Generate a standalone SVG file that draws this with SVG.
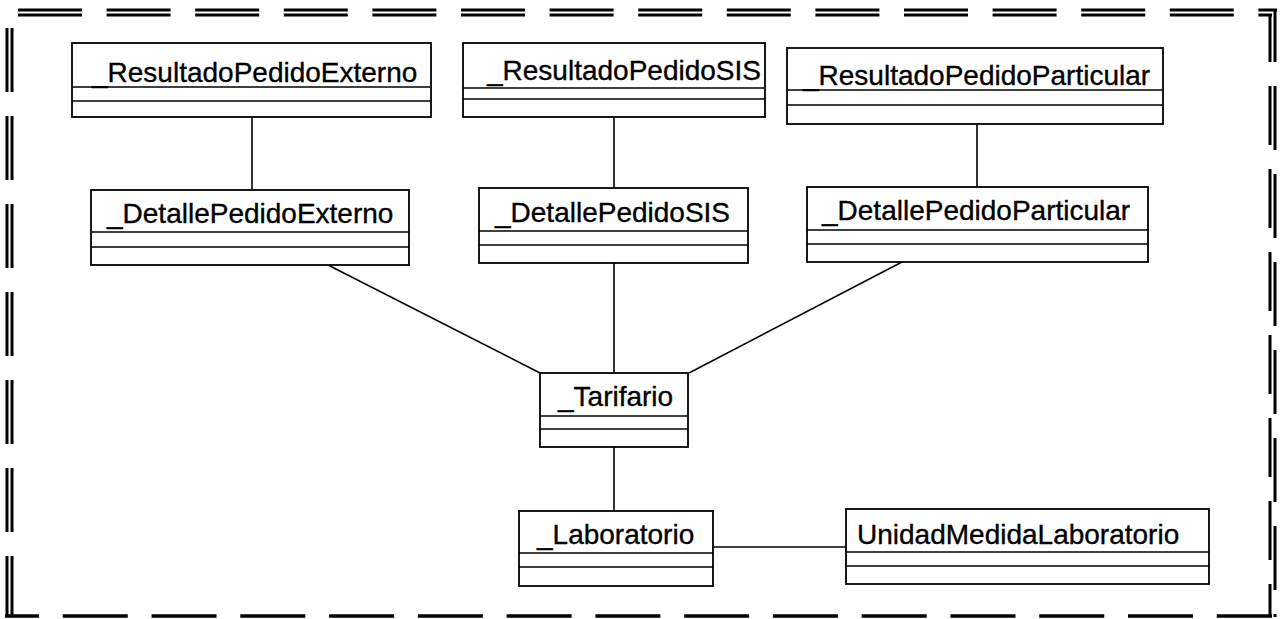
<svg xmlns="http://www.w3.org/2000/svg" width="1287" height="619" viewBox="0 0 1287 619">
<style>
.box{fill:#fff;stroke:#000;stroke-width:1.8}
.div{stroke:#000;stroke-width:1.6}
.lbl{font-family:"Liberation Sans",Arial,sans-serif;font-size:28px;fill:#000;stroke:#000;stroke-width:0.35}
.conn{stroke:#000;stroke-width:1.6;fill:none}
.bd{stroke:#000;stroke-width:3;fill:none}
</style>
<rect width="1287" height="619" fill="#fff"/>
<g id="border">
<path class="bd" d="M18 10 H1277" stroke-dasharray="64 24.6"/>
<path class="bd" d="M18 15 H1272" stroke-dasharray="64 24.6"/>
<path class="bd" d="M1275 10 V617" stroke-dasharray="64 24" stroke-dashoffset="12"/>
<path class="bd" d="M1270 15 V617" stroke-dasharray="59 24" stroke-dashoffset="12"/>
<path class="bd" d="M7 28 V617" stroke-dasharray="64 24"/>
<path class="bd" d="M12 28 V617" stroke-dasharray="64 24"/>
<path d="M5 616 H1272" stroke="#000" stroke-width="3.4" fill="none" stroke-dasharray="65 23.77" stroke-dashoffset="31"/>
</g>
<g id="connectors">
<line class="conn" x1="252" y1="117" x2="252" y2="190"/>
<line class="conn" x1="614" y1="117" x2="614" y2="188"/>
<line class="conn" x1="977" y1="124" x2="977" y2="187"/>
<line class="conn" x1="328" y1="265" x2="540" y2="373"/>
<line class="conn" x1="614" y1="263" x2="614" y2="373"/>
<line class="conn" x1="902" y1="262" x2="689" y2="373"/>
<line class="conn" x1="614" y1="447" x2="614" y2="511"/>
<line class="conn" x1="713" y1="547" x2="846" y2="547"/>
</g>
<g id="ResultadoPedidoExterno">
<rect class="box" x="72" y="43" width="359" height="74"/>
<line class="div" x1="72" y1="87" x2="431" y2="87"/>
<line class="div" x1="72" y1="101" x2="431" y2="101"/>
<text class="lbl" x="92" y="82">_ResultadoPedidoExterno</text>
</g>
<g id="ResultadoPedidoSIS">
<rect class="box" x="463" y="43" width="302" height="74"/>
<line class="div" x1="463" y1="88" x2="765" y2="88"/>
<line class="div" x1="463" y1="99" x2="765" y2="99"/>
<text class="lbl" x="487" y="80">_ResultadoPedidoSIS</text>
</g>
<g id="ResultadoPedidoParticular">
<rect class="box" x="787" y="48" width="376" height="76"/>
<line class="div" x1="787" y1="90" x2="1163" y2="90"/>
<line class="div" x1="787" y1="105" x2="1163" y2="105"/>
<text class="lbl" x="803" y="85">_ResultadoPedidoParticular</text>
</g>
<g id="DetallePedidoExterno">
<rect class="box" x="91" y="190" width="318" height="75"/>
<line class="div" x1="91" y1="232" x2="409" y2="232"/>
<line class="div" x1="91" y1="247" x2="409" y2="247"/>
<text class="lbl" x="107" y="223">_DetallePedidoExterno</text>
</g>
<g id="DetallePedidoSIS">
<rect class="box" x="479" y="188" width="269" height="75"/>
<line class="div" x1="479" y1="231" x2="748" y2="231"/>
<line class="div" x1="479" y1="245" x2="748" y2="245"/>
<text class="lbl" x="495" y="222">_DetallePedidoSIS</text>
</g>
<g id="DetallePedidoParticular">
<rect class="box" x="807" y="187" width="341" height="75"/>
<line class="div" x1="807" y1="230" x2="1148" y2="230"/>
<line class="div" x1="807" y1="244" x2="1148" y2="244"/>
<text class="lbl" x="822" y="220">_DetallePedidoParticular</text>
</g>
<g id="Tarifario">
<rect class="box" x="540" y="373" width="148" height="74"/>
<line class="div" x1="540" y1="416" x2="688" y2="416"/>
<line class="div" x1="540" y1="429" x2="688" y2="429"/>
<text class="lbl" x="558" y="406">_Tarifario</text>
</g>
<g id="Laboratorio">
<rect class="box" x="519" y="511" width="194" height="75"/>
<line class="div" x1="519" y1="553" x2="713" y2="553"/>
<line class="div" x1="519" y1="567" x2="713" y2="567"/>
<text class="lbl" x="537" y="544">_Laboratorio</text>
</g>
<g id="UnidadMedidaLaboratorio">
<rect class="box" x="846" y="509" width="363" height="75"/>
<line class="div" x1="846" y1="552" x2="1209" y2="552"/>
<line class="div" x1="846" y1="566" x2="1209" y2="566"/>
<text class="lbl" x="857" y="544">UnidadMedidaLaboratorio</text>
</g>
</svg>
